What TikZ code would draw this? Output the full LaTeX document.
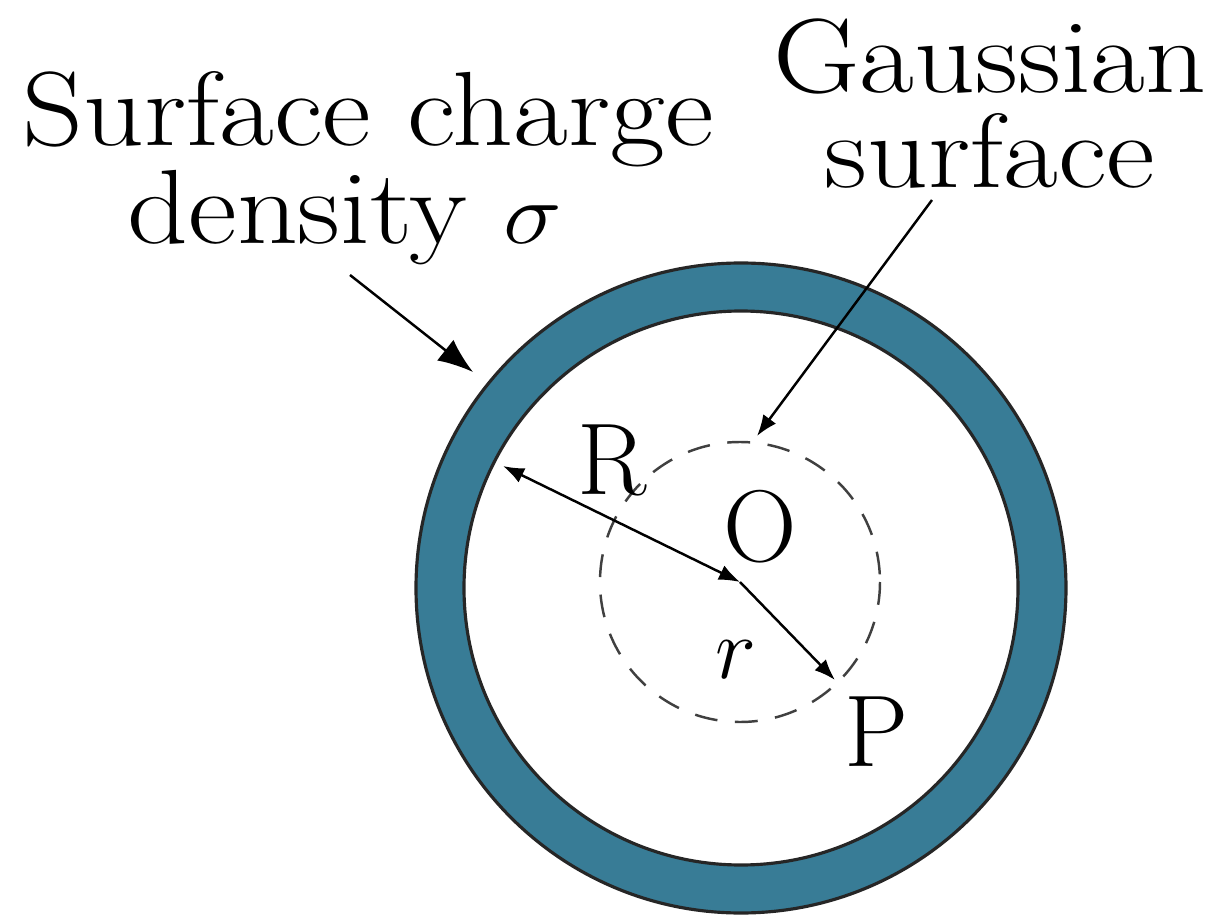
\documentclass[tikz,border=0pt]{standalone}
\usetikzlibrary{arrows.meta}
\definecolor{shell}{RGB}{56,124,150}
\newcommand\stretchtxt[1]{\scalebox{1.13}[1]{#1}}

\begin{document}
\begin{tikzpicture}[
    x=0.01cm, y=-0.01cm,
    every node/.style = {font=\fontsize{29}{26}\selectfont, inner sep=0pt},
    lbl/.style    = {font=\fontsize{30}{25}\selectfont},
    ring/.style   = {draw=black!85, line width=0.9pt, fill=shell, even odd rule},
    gauss/.style  = {draw=black!75, line width=0.7pt, dash pattern=on 6.5pt off 5pt},
    arr/.style    = {-{Latex[length=6pt, width=4.5pt]}, line width=0.7pt},
    dblarr/.style = {{Latex[length=6pt, width=4.5pt]}-{Latex[length=6pt, width=4.5pt]}, line width=0.7pt},
    bigarr/.style = {-{Latex[length=10pt, width=7.5pt]}, line width=0.7pt}
]
\useasboundingbox (0,0) rectangle (1214,924);

\coordinate (O)       at (740,582);
\coordinate (Redge)   at (503,466);
\coordinate (Ptip)    at (835,680);
\coordinate (sigtail) at (350,275);
\coordinate (sigtip)  at (473,372);
\coordinate (gstail)  at (932,200);
\coordinate (gstip)   at (757,436);

\draw[ring] (741,588) circle[radius=325] (741,588) circle[radius=277];
\draw[gauss] (O) circle[radius=140];

\node[lbl, align=left] (sigma) at (368,168)
    {\stretchtxt{Surface charge}\\\hspace*{1.05cm}\stretchtxt{density $\sigma$}};
\node[lbl, align=center, font=\fontsize{30}{27}\selectfont] (gs) at (990,104)
    {\stretchtxt{Gaussian}\\\stretchtxt{surface}};

\node (Rlab) at (612,460) {R};
\node (Olab) at (760,527) {O};
\node (rlab) at (736,660) {$r$};
\node (Plab) at (877,732) {P};

\draw[dblarr] (Redge) -- (O);
\draw[arr] (O) -- (Ptip);
\draw[bigarr] (sigtail) -- (sigtip);
\draw[arr] (gstail) -- (gstip);
\end{tikzpicture}
\end{document}
